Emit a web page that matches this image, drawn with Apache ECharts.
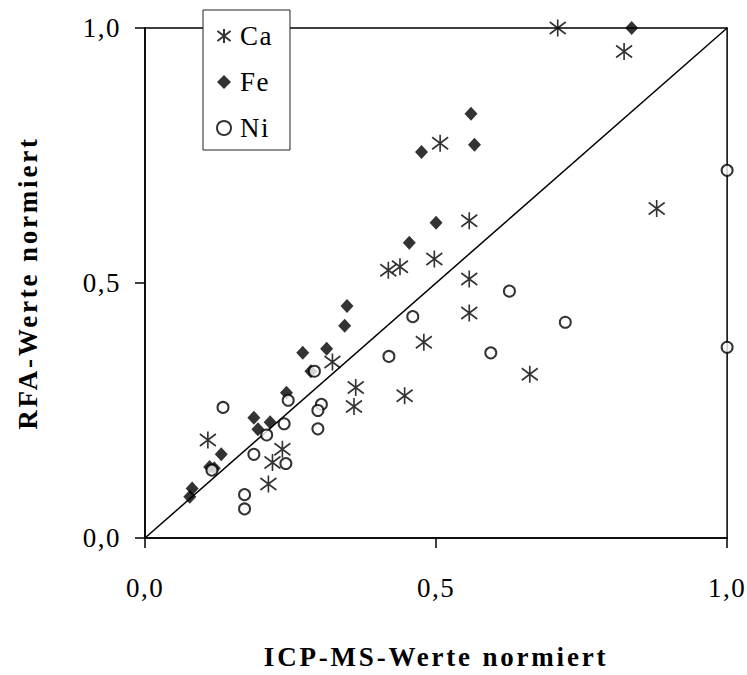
<!DOCTYPE html>
<html>
<head>
<meta charset="utf-8">
<script src="https://cdn.jsdelivr.net/npm/echarts@6/dist/echarts.min.js"></script>
<style>
  html, body { margin: 0; padding: 0; background: #fff; }
  #chart { width: 747px; height: 675px; }
  #chart text { letter-spacing: 1.5px; }
  #chart text[style*="bold"] { letter-spacing: 2.8px; }
</style>
</head>
<body>
<div id="chart"></div>
<script>
// Normalised values: ICP-MS (x) against RFA (y)
const caX = [0.709, 0.823, 0.507, 0.879, 0.557, 0.497, 0.418, 0.438, 0.557, 0.557, 0.479, 0.322, 0.661, 0.362, 0.446, 0.359, 0.108, 0.236, 0.219, 0.212];
const caY = [1.000, 0.954, 0.774, 0.646, 0.622, 0.547, 0.525, 0.532, 0.508, 0.441, 0.384, 0.345, 0.321, 0.295, 0.279, 0.258, 0.192, 0.174, 0.148, 0.106];

const feX = [0.836, 0.560, 0.566, 0.475, 0.500, 0.454, 0.347, 0.343, 0.312, 0.271, 0.285, 0.243, 0.187, 0.215, 0.194, 0.131, 0.111, 0.119, 0.081, 0.077];
const feY = [1.000, 0.832, 0.771, 0.757, 0.618, 0.579, 0.455, 0.416, 0.371, 0.363, 0.327, 0.285, 0.236, 0.227, 0.213, 0.164, 0.139, 0.137, 0.097, 0.081];

const niX = [1.000, 0.626, 0.722, 1.000, 0.460, 0.419, 0.594, 0.291, 0.303, 0.297, 0.297, 0.246, 0.134, 0.239, 0.209, 0.187, 0.242, 0.115, 0.171, 0.171];
const niY = [0.721, 0.484, 0.423, 0.374, 0.434, 0.356, 0.363, 0.327, 0.262, 0.250, 0.214, 0.270, 0.256, 0.224, 0.202, 0.164, 0.146, 0.133, 0.085, 0.057];

// 1:1 reference line
const diagX = [0, 1];
const diagY = [0, 1];

const tickValues = [0, 0.5, 1];
const xTitle = 'ICP-MS-Werte normiert';
const yTitle = 'RFA-Werte normiert';

const pairs = (xs, ys) => xs.map((x, i) => [x, ys[i]]);
const fmt = v => v.toFixed(1).replace('.', ',');

const FONT = 'Liberation Serif';
const ASTERISK = 'path://M8,0 L8,17 M0,2.5 L16,14.5 M0,14.5 L16,2.5';

const chart = echarts.init(document.getElementById('chart'), null, { renderer: 'svg' });

const axisCommon = {
  type: 'value',
  min: 0,
  max: 1,
  interval: 0.5,
  splitLine: { show: false },
  axisLine: { show: true, lineStyle: { color: '#000', width: 1.5 } },
  axisTick: { show: true, inside: false, length: 10, lineStyle: { color: '#000', width: 1.5 } },
  axisLabel: {
    color: '#000',
    fontFamily: FONT,
    fontSize: 27,
    formatter: v => (tickValues.includes(v) ? fmt(v) : '')
  },
  nameLocation: 'middle',
  nameTextStyle: { color: '#000', fontFamily: FONT, fontSize: 27, fontWeight: 'bold' }
};

chart.setOption({
  animation: false,
  backgroundColor: '#fff',
  grid: {
    left: 145, right: 17, top: 28, bottom: 130,
    show: true, borderColor: '#000', borderWidth: 1.5, backgroundColor: '#fff'
  },
  legend: {
    left: 203,
    top: 10,
    orient: 'vertical',
    backgroundColor: '#fff',
    borderColor: '#222',
    borderWidth: 1,
    borderRadius: 0,
    padding: [12, 20, 8, 13],
    itemWidth: 14,
    itemHeight: 14,
    itemGap: 18,
    textStyle: { color: '#000', fontFamily: FONT, fontSize: 27, lineHeight: 28, padding: [0, 0, 0, 4] },
    data: ['Ca', 'Fe', 'Ni']
  },
  xAxis: Object.assign({}, axisCommon, {
    name: xTitle,
    nameGap: 105,
    axisLabel: Object.assign({}, axisCommon.axisLabel, { margin: 36 })
  }),
  yAxis: Object.assign({}, axisCommon, {
    name: yTitle,
    nameGap: 104,
    axisLabel: Object.assign({}, axisCommon.axisLabel, { margin: 24 })
  }),
  series: [
    {
      type: 'line',
      data: pairs(diagX, diagY),
      showSymbol: false,
      silent: true,
      lineStyle: { color: '#000', width: 1.5 },
      z: 1
    },
    {
      name: 'Ca',
      type: 'scatter',
      clip: false,
      symbol: ASTERISK,
      symbolSize: [16, 17],
      itemStyle: { color: '#000', borderColor: '#000', borderWidth: 1.7 },
      data: pairs(caX, caY),
      z: 3
    },
    {
      name: 'Fe',
      type: 'scatter',
      clip: false,
      symbol: 'diamond',
      symbolSize: [13, 14],
      itemStyle: { color: '#000' },
      data: pairs(feX, feY),
      z: 3
    },
    {
      name: 'Ni',
      type: 'scatter',
      clip: false,
      symbol: 'emptyCircle',
      symbolSize: 11,
      itemStyle: { color: '#000', borderColor: '#000', borderWidth: 1.4 },
      data: pairs(niX, niY),
      z: 3
    }
  ]
});
</script>
</body>
</html>
